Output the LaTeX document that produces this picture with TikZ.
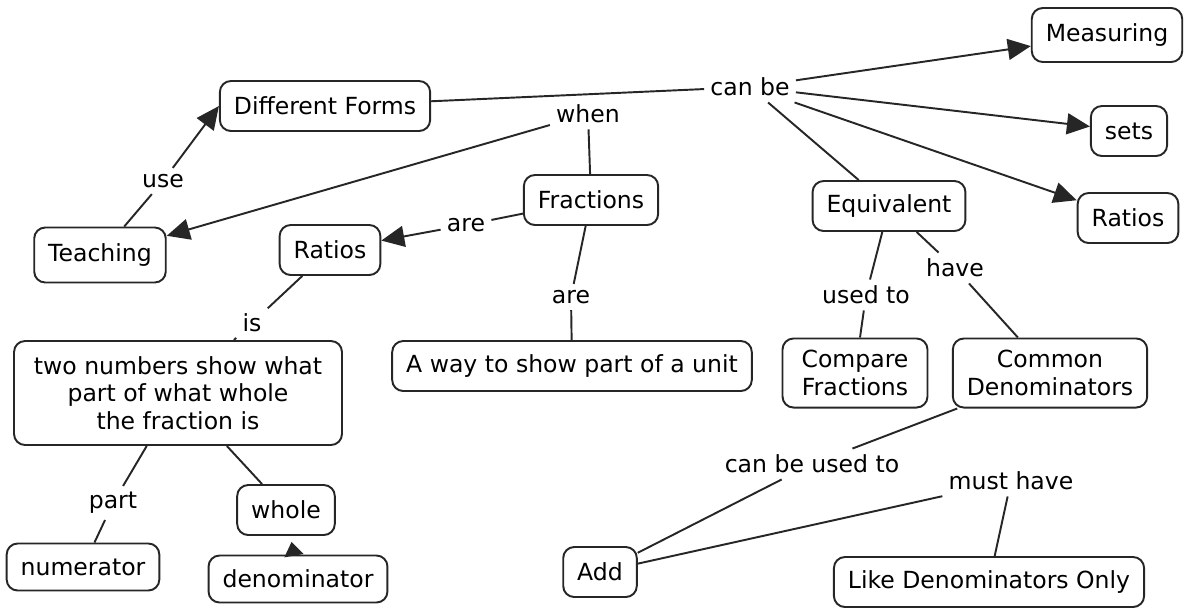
\documentclass[tikz,border=0pt]{standalone}
\usepackage{fontspec}
\setmainfont{DejaVu Sans}
\usetikzlibrary{arrows.meta}

\begin{document}
\begin{tikzpicture}[x=0.02cm,y=-0.02cm,
   concept/.style={draw=black!85, line width=1.1pt, rounded corners=0.22cm,
      minimum height=1cm, inner xsep=0.28cm, inner ysep=0.24cm, align=center,
      text=black, font=\fontsize{13.4}{15.5}\selectfont},
   link/.style={inner sep=0.12cm, text=black, font=\fontsize{13.4}{15.5}\selectfont},
   conn/.style={draw=black!85, line width=1.1pt},
   arr/.style={conn, -{Triangle[length=0.46cm,width=0.42cm]}},
   smallarr/.style={conn, -{Triangle[length=0.28cm,width=0.38cm]}, shorten >=0.12cm}]

   \useasboundingbox (0,0) rectangle (1192,610);

%   \draw[help lines] (0,0) grid[step=50] (1192,610);

   % concepts
   \node[concept] (forms)   at (325,106) {Different Forms};
   \node[concept, minimum height=1.1cm] (teach) at (100,255) {Teaching};
   \node[concept] (ratiosa) at (330,250) {Ratios};
   \node[concept] (frac)    at (591,200) {Fractions};
   \node[concept] (equiv)   at (889,206) {Equivalent};
   \node[concept, minimum height=1.08cm] (meas) at (1107,35) {Measuring};
   \node[concept] (sets)    at (1129,131) {sets};
   \node[concept] (ratiosb) at (1128,218) {Ratios};
   \node[concept, minimum width=6.56cm, minimum height=2.08cm] (twonum) at (178,393)
      {two numbers show what\\part of what whole\\the fraction is};
   \node[concept] (unit)    at (572,366) {A way to show part of a unit};
   \node[concept, minimum width=2.9cm] (compare) at (855,373) {Compare\\Fractions};
   \node[concept] (common)  at (1050,373) {Common\\Denominators};
   \node[concept] (whole)   at (286,510) {whole};
   \node[concept, minimum height=0.94cm] (numer) at (83,567) {numerator};
   \node[concept, minimum height=0.94cm] (denom) at (298,579) {denominator};
   \node[concept] (add)     at (600,572) {Add};
   \node[concept] (like)    at (989,582) {Like Denominators Only};

   % linking phrases
   \node[link] (canbe)    at (750,87)  {can be};
   \node[link] (when)     at (588,114) {when};
   \node[link] (use)      at (163,181) {use};
   \node[link] (area)     at (466,225) {are};
   \node[link] (areb)     at (571,297) {are};
   \node[link] (is)       at (252,323) {is};
   \node[link] (usedto)   at (866,295) {used to};
   \node[link] (have)     at (955,268) {have};
   \node[link] (part)     at (113,503) {part};
   \node[link] (canuse)   at (812,464) {can be used to};
   \node[link] (musthave) at (1011,481) {must have};

   % connectors
   \draw[conn] (teach) -- (use);
   \draw[arr]  (use) -- (forms.west);
   \draw[conn] (forms) -- (canbe);
   \draw[arr]  (canbe) -- (meas);
   \draw[arr]  (canbe) -- (sets);
   \draw[arr]  (canbe) -- (ratiosb);
   \draw[conn] (canbe) -- (equiv);
   \draw[conn] (frac) -- (when);
   \draw[arr]  (when) -- (teach);
   \draw[conn] (frac) -- (area);
   \draw[arr]  (area) -- (ratiosa);
   \draw[conn] (frac) -- (areb);
   \draw[conn] (areb) -- (unit);
   \draw[conn] (ratiosa) -- (is);
   \draw[conn] (is) -- (twonum);
   \draw[conn] (twonum) -- (part);
   \draw[conn] (part) -- (numer);
   \draw[conn] (twonum) -- (whole);
   \draw[smallarr] (denom) -- (whole);
   \draw[conn] (equiv) -- (usedto);
   \draw[conn] (usedto) -- (compare);
   \draw[conn] (equiv) -- (have);
   \draw[conn] (have) -- (common);
   \draw[conn] (common) -- (canuse);
   \draw[conn] (canuse) -- (add);
   \draw[conn] (add) -- (musthave);
   \draw[conn] (musthave) -- (like);

\end{tikzpicture}
\end{document}
